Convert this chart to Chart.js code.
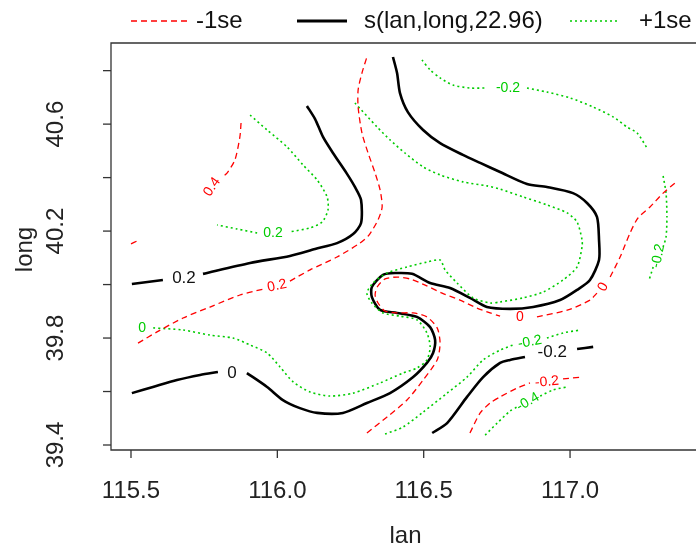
<!DOCTYPE html>
<html>
<head>
<meta charset="utf-8">
<script src="https://cdn.jsdelivr.net/npm/chart.js@4.4.1/dist/chart.umd.min.js"></script>
<style>
html, body { margin: 0; padding: 0; background: #fff; overflow: hidden; }
</style>
</head>
<body>
<canvas id="gamPlot" width="696" height="554"></canvas>
<script>
// axis ticks
const xTicks = [115.5, 116.0, 116.5, 117.0];
const yTicks = [39.4, 39.6, 39.8, 40.0, 40.2, 40.4, 40.6, 40.8];
const yTickLabels = [39.4, 39.8, 40.2, 40.6];

// fitted surface s(lan,long) contours  [lan, long]
const fit02a = [[115.503,40.002],[115.609,40.017]];
const fit02b = [[115.746,40.040],[115.907,40.081],[116.043,40.107],[116.129,40.133],[116.204,40.155],[116.259,40.189],[116.286,40.230],[116.286,40.316],[116.265,40.365],[116.238,40.414],[116.190,40.492],[116.156,40.552],[116.129,40.619],[116.101,40.668]];
const fit0a = [[116.395,40.851],[116.409,40.791],[116.419,40.716],[116.446,40.645],[116.498,40.578],[116.556,40.529],[116.634,40.485],[116.693,40.455],[116.761,40.421],[116.853,40.376],[116.921,40.365],[117.010,40.342],[117.058,40.305],[117.092,40.253],[117.099,40.167],[117.099,40.092],[117.068,40.017],[117.024,39.980],[116.966,39.942],[116.874,39.916],[116.795,39.909],[116.716,39.916],[116.658,39.950],[116.590,39.987],[116.522,40.006],[116.460,40.040],[116.402,40.043],[116.361,40.036],[116.323,39.991],[116.323,39.953],[116.351,39.905],[116.409,39.894],[116.477,39.879],[116.522,39.841],[116.539,39.793],[116.532,39.744],[116.511,39.707],[116.464,39.654],[116.385,39.594],[116.306,39.557],[116.224,39.520],[116.136,39.520],[116.077,39.538],[116.019,39.568],[115.965,39.617],[115.896,39.669]];
const fit0b = [[115.797,39.673],[115.736,39.662],[115.657,39.643],[115.575,39.617],[115.503,39.594]];
const fitM02a = [[116.529,39.445],[116.580,39.482],[116.648,39.580],[116.703,39.654],[116.761,39.707],[116.795,39.718],[116.846,39.729]];
const fitM02b = [[117.024,39.759],[117.079,39.767]];

// -1se contours
const lo04 = [[115.876,40.604],[115.872,40.552],[115.855,40.466],[115.828,40.417],[115.811,40.402]];
const loEdge = [[115.500,40.152],[115.521,40.163]];
const lo02a = [[115.524,39.781],[115.589,39.823],[115.678,39.875],[115.770,39.916],[115.872,39.961],[115.951,39.983]];
const lo02b = [[116.043,40.013],[116.112,40.055],[116.204,40.103],[116.282,40.155],[116.313,40.185],[116.344,40.242],[116.358,40.290],[116.351,40.354],[116.334,40.417],[116.310,40.492],[116.289,40.567],[116.276,40.664],[116.276,40.728],[116.289,40.791],[116.306,40.851]];
const lo0a = [[116.306,39.445],[116.375,39.505],[116.443,39.568],[116.498,39.643],[116.546,39.718],[116.556,39.781],[116.546,39.838],[116.511,39.879],[116.464,39.894],[116.409,39.894],[116.368,39.901],[116.344,39.931],[116.334,39.961],[116.341,39.991],[116.368,40.021],[116.409,40.028],[116.453,40.021],[116.505,39.998],[116.563,39.968],[116.624,39.942],[116.682,39.912],[116.727,39.894],[116.761,39.882]];
const lo0b = [[116.887,39.879],[116.993,39.905],[117.068,39.942],[117.092,39.968]];
const lo0c = [[117.137,40.028],[117.171,40.103],[117.205,40.193],[117.232,40.249],[117.273,40.290],[117.318,40.342],[117.359,40.380]];
const loM02a = [[116.658,39.445],[116.693,39.520],[116.727,39.557],[116.761,39.580],[116.819,39.613],[116.863,39.632]];
const loM02b = [[116.976,39.647],[117.041,39.654]];

// +1se contours
const hi02a = [[115.907,40.634],[115.965,40.578],[116.033,40.515],[116.088,40.447],[116.136,40.391],[116.170,40.328],[116.173,40.279],[116.153,40.234],[116.112,40.212],[116.043,40.197]];
const hi02b = [[115.931,40.193],[115.862,40.208],[115.794,40.223]];
const hi0 = [[116.265,40.679],[116.341,40.589],[116.385,40.541],[116.436,40.492],[116.498,40.440],[116.556,40.410],[116.634,40.384],[116.716,40.369],[116.761,40.357],[116.839,40.328],[116.921,40.298],[116.990,40.268],[117.024,40.234],[117.041,40.167],[117.041,40.141],[117.024,40.066],[116.976,40.017],[116.908,39.972],[116.839,39.950],[116.761,39.935],[116.727,39.931],[116.669,39.950],[116.614,40.006],[116.573,40.055],[116.556,40.092],[116.511,40.084],[116.443,40.066],[116.375,40.043],[116.327,40.006],[116.306,39.968],[116.323,39.931],[116.361,39.894],[116.419,39.882],[116.477,39.868],[116.511,39.819],[116.522,39.767],[116.511,39.718],[116.477,39.688],[116.429,39.669],[116.351,39.632],[116.259,39.594],[116.180,39.583],[116.112,39.598],[116.054,39.636],[116.009,39.692],[115.965,39.744],[115.907,39.774],[115.849,39.800],[115.770,39.811],[115.678,39.830],[115.575,39.838]];
const hiM02topA = [[116.494,40.840],[116.522,40.803],[116.556,40.773],[116.600,40.746],[116.658,40.735],[116.710,40.735]];
const hiM02topB = [[116.853,40.735],[116.921,40.720],[117.000,40.698],[117.079,40.664],[117.147,40.627],[117.195,40.589],[117.229,40.567],[117.263,40.511]];
const hiM02rightA = [[117.318,40.406],[117.328,40.342],[117.331,40.253],[117.328,40.178],[117.318,40.141]];
const hiM02rightB = [[117.284,40.066],[117.270,40.017]];
const hiM02lowA = [[116.368,39.441],[116.429,39.467],[116.498,39.523],[116.580,39.594],[116.648,39.654],[116.703,39.718],[116.761,39.755],[116.805,39.774]];
const hiM02lowB = [[116.921,39.800],[116.976,39.819],[117.034,39.830]];
const hiM04a = [[116.710,39.437],[116.751,39.482],[116.795,39.527],[116.819,39.542]];
const hiM04b = [[116.898,39.583],[116.942,39.606],[116.990,39.617]];

// contour labels: [lan, long, text, angle]
const fitLabels = [[115.681,40.025,'0.2',0],[115.845,39.669,'0',0],[116.939,39.748,'-0.2',0]];
const loLabels = [[115.777,40.365,'0.4',-55],[115.999,39.995,'0.2',-12],[116.829,39.879,'0',0],[117.113,39.991,'0',-62],[116.921,39.636,'-0.2',-5]];
const hiLabels = [[115.985,40.193,'0.2',0],[115.538,39.838,'0',0],[116.788,40.735,'-0.2',0],[117.301,40.107,'-0.2',-78],[116.863,39.785,'-0.2',-10],[116.856,39.561,'-0.4',-30]];

const RED = '#ff0000';
const GREEN = '#00cc00';
const FONT = '"Liberation Sans", Arial, sans-serif';

function toPts(arr) {
    return arr.map(p => ({ x: p[0], y: p[1] }));
}

function fitSet(arr) {
    return { data: toPts(arr), borderColor: '#000', borderWidth: 2.6, showLine: true, pointRadius: 0, tension: 0.25 };
}
function loSet(arr) {
    return { data: toPts(arr), borderColor: RED, borderWidth: 1.3, borderDash: [6, 4], showLine: true, pointRadius: 0, tension: 0.25 };
}
function hiSet(arr) {
    return { data: toPts(arr), borderColor: GREEN, borderWidth: 1.6, borderDash: [2, 3], showLine: true, pointRadius: 0, tension: 0.25 };
}

const datasets = [
    ...[lo04, loEdge, lo02a, lo02b, lo0a, lo0b, lo0c, loM02a, loM02b].map(loSet),
    ...[hi02a, hi02b, hi0, hiM02topA, hiM02topB, hiM02rightA, hiM02rightB, hiM02lowA, hiM02lowB, hiM04a, hiM04b].map(hiSet),
    ...[fit02a, fit02b, fit0a, fit0b, fitM02a, fitM02b].map(fitSet)
];

const decorations = {
    id: 'decorations',
    afterDatasetsDraw(chart) {
        const ctx = chart.ctx;
        const xs = chart.scales.x, ys = chart.scales.y;
        const a = chart.chartArea;
        ctx.save();

        // box
        ctx.strokeStyle = '#333';
        ctx.lineWidth = 1.3;
        ctx.beginPath();
        ctx.moveTo(a.right + 5, a.top);
        ctx.lineTo(a.left, a.top);
        ctx.lineTo(a.left, a.bottom);
        ctx.lineTo(a.right + 5, a.bottom);
        ctx.stroke();

        // ticks
        ctx.fillStyle = '#222';
        ctx.font = '24px ' + FONT;
        ctx.textAlign = 'center';
        ctx.textBaseline = 'middle';
        xTicks.forEach(v => {
            const px = xs.getPixelForValue(v);
            ctx.beginPath();
            ctx.moveTo(px, a.bottom);
            ctx.lineTo(px, a.bottom + 8);
            ctx.stroke();
            ctx.fillText(v.toFixed(1), px, a.bottom + 41);
        });
        yTicks.forEach(v => {
            const py = ys.getPixelForValue(v);
            ctx.beginPath();
            ctx.moveTo(a.left, py);
            ctx.lineTo(a.left - 8, py);
            ctx.stroke();
        });
        yTickLabels.forEach(v => {
            const py = ys.getPixelForValue(v);
            ctx.save();
            ctx.translate(56, py);
            ctx.rotate(-Math.PI / 2);
            ctx.fillText(v.toFixed(1), 0, 0);
            ctx.restore();
        });

        // axis titles
        ctx.fillText('lan', (a.left + a.right) / 2 + 2, 536);
        ctx.save();
        ctx.translate(25, (a.top + a.bottom) / 2 + 3);
        ctx.rotate(-Math.PI / 2);
        ctx.fillText('long', 0, 0);
        ctx.restore();

        // contour labels
        const drawLabels = (list, color, size) => {
            ctx.fillStyle = color;
            ctx.font = size + 'px ' + FONT;
            list.forEach(l => {
                ctx.save();
                ctx.translate(xs.getPixelForValue(l[0]), ys.getPixelForValue(l[1]));
                ctx.rotate(l[3] * Math.PI / 180);
                ctx.fillText(l[2], 0, 0);
                ctx.restore();
            });
        };
        drawLabels(fitLabels, '#111', 17);
        drawLabels(loLabels, RED, 14);
        drawLabels(hiLabels, GREEN, 14);

        // legend
        const ly = 21;
        ctx.textAlign = 'left';
        ctx.font = '24px ' + FONT;
        const legendItem = (x0, x1, color, width, dash, text, tx) => {
            ctx.strokeStyle = color;
            ctx.lineWidth = width;
            ctx.setLineDash(dash);
            ctx.beginPath();
            ctx.moveTo(x0, ly);
            ctx.lineTo(x1, ly);
            ctx.stroke();
            ctx.setLineDash([]);
            ctx.fillStyle = '#111';
            ctx.fillText(text, tx, ly);
        };
        legendItem(131, 189, RED, 1.3, [6, 4], '-1se', 196);
        legendItem(297, 347, '#000', 3, [], 's(lan,long,22.96)', 364);
        legendItem(570, 620, GREEN, 1.6, [2, 3], '+1se', 639);

        ctx.restore();
    }
};

new Chart(document.getElementById('gamPlot'), {
    type: 'scatter',
    data: { datasets: datasets },
    options: {
        responsive: false,
        animation: false,
        layout: { padding: { left: 111, right: 0, top: 43, bottom: 104 } },
        scales: {
            x: { type: 'linear', min: 115.4317, max: 117.4303, display: false },
            y: { type: 'linear', min: 39.3813, max: 40.9034, display: false }
        },
        plugins: {
            legend: { display: false },
            tooltip: { enabled: false }
        }
    },
    plugins: [decorations]
});
</script>
</body>
</html>
